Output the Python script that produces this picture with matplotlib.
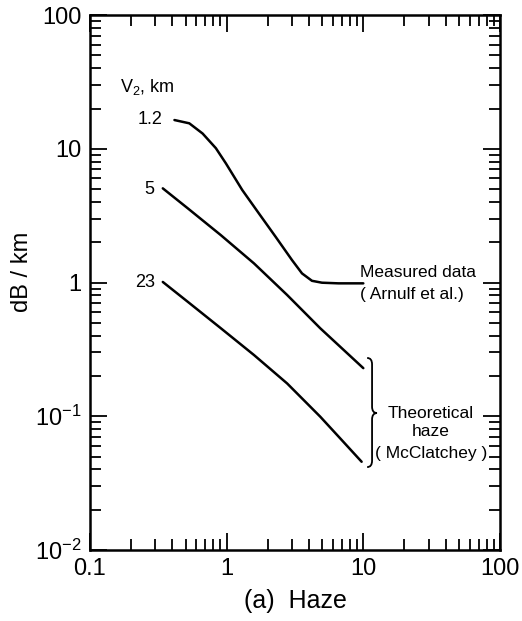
import matplotlib
matplotlib.use("Agg")
import matplotlib.pyplot as plt
from matplotlib.path import Path
from matplotlib.patches import PathPatch
from matplotlib.ticker import LogLocator, FixedLocator, FixedFormatter, NullFormatter

plt.rcParams['font.family'] = ['Liberation Sans', 'DejaVu Sans']
plt.rcParams['mathtext.fontset'] = 'custom'
plt.rcParams['mathtext.rm'] = 'Liberation Sans'

# curve V2 = 1.2 km (measured data, flattens near 1 dB/km)
x_12 = [0.415, 0.533, 0.667, 0.834, 0.987, 1.30, 1.72, 2.28, 3.01, 3.56, 4.21, 4.98, 6.58, 10.0]
y_12 = [16.4, 15.5, 13.0, 10.1, 7.78, 4.92, 3.29, 2.20, 1.47, 1.17, 1.03, 0.997, 0.986, 0.986]

# curve V2 = 5 km
x_5 = [0.341, 0.519, 0.907, 1.585, 2.77, 4.84, 10.0]
y_5 = [5.06, 3.59, 2.26, 1.39, 0.807, 0.455, 0.229]

# curve V2 = 23 km
x_23 = [0.341, 0.519, 0.907, 1.585, 2.77, 4.84, 6.77, 9.72]
y_23 = [1.01, 0.718, 0.455, 0.287, 0.176, 0.0993, 0.0684, 0.0457]

x_ticks = [0.1, 1, 10, 100]
x_labels = ['0.1', '1', '10', '100']
y_ticks = [0.01, 0.1, 1, 10, 100]
y_labels = [r'$\mathregular{10^{-2}}$', r'$\mathregular{10^{-1}}$', '1', '10', '100']

fig = plt.figure(figsize=(5.22, 6.21), dpi=100)
ax = fig.add_axes([0.1724, 0.1143, 0.7854, 0.8615])

for xs, ys in [(x_12, y_12), (x_5, y_5), (x_23, y_23)]:
    ax.plot(xs, ys, color='black', lw=1.8, solid_capstyle='round',
            solid_joinstyle='round')

ax.set_xscale('log')
ax.set_yscale('log')
ax.set_xlim(0.1, 100)
ax.set_ylim(0.01, 100)

ax.xaxis.set_major_locator(FixedLocator(x_ticks))
ax.xaxis.set_major_formatter(FixedFormatter(x_labels))
ax.yaxis.set_major_locator(FixedLocator(y_ticks))
ax.yaxis.set_major_formatter(FixedFormatter(y_labels))
ax.xaxis.set_minor_locator(LogLocator(base=10, subs=range(2, 10)))
ax.yaxis.set_minor_locator(LogLocator(base=10, subs=range(2, 10)))
ax.xaxis.set_minor_formatter(NullFormatter())
ax.yaxis.set_minor_formatter(NullFormatter())

ax.tick_params(which='both', direction='in', top=True, right=True, width=1.3)
ax.tick_params(which='major', length=12, labelsize=17, pad=6)
ax.tick_params(which='minor', length=8)
for s in ax.spines.values():
    s.set_linewidth(1.8)

ax.set_xlabel('(a)  Haze', fontsize=18, labelpad=6)
ax.set_ylabel('dB / km', fontsize=17)
ax.yaxis.set_label_coords(-0.138, 0.52)

# curve labels
ax.text(0.073, 0.865, r'V$_\mathregular{2}$, km', transform=ax.transAxes,
        fontsize=13, ha='left', va='center')
ax.text(0.178, 0.804, '1.2', transform=ax.transAxes, fontsize=13, ha='right', va='center')
ax.text(0.158, 0.673, '5', transform=ax.transAxes, fontsize=13, ha='right', va='center')
ax.text(0.158, 0.5, '23', transform=ax.transAxes, fontsize=13, ha='right', va='center')

# right side annotations
ax.text(0.659, 0.518, 'Measured data', transform=ax.transAxes, fontsize=12.5,
        ha='left', va='center')
ax.text(0.659, 0.477, '( Arnulf et al.)', transform=ax.transAxes, fontsize=12.5,
        ha='left', va='center')
ax.text(0.832, 0.256, 'Theoretical', transform=ax.transAxes, fontsize=12.5,
        ha='center', va='center')
ax.text(0.832, 0.221, 'haze', transform=ax.transAxes, fontsize=12.5,
        ha='center', va='center')
ax.text(0.832, 0.181, '( McClatchey )', transform=ax.transAxes, fontsize=12.5,
        ha='center', va='center')

# curly brace grouping the theoretical curves
bx0, bx1, bx2 = 0.676, 0.688, 0.700
yt, ym, yb = 0.359, 0.256, 0.155
d = 0.012
verts = [(bx0, yt), (bx1, yt), (bx1, yt - d),
         (bx1, ym + d), (bx1, ym), (bx2, ym),
         (bx1, ym), (bx1, ym - d),
         (bx1, yb + d), (bx1, yb), (bx0, yb)]
codes = [Path.MOVETO, Path.CURVE3, Path.CURVE3,
         Path.LINETO, Path.CURVE3, Path.CURVE3,
         Path.CURVE3, Path.CURVE3,
         Path.LINETO, Path.CURVE3, Path.CURVE3]
ax.add_patch(PathPatch(Path(verts, codes), transform=ax.transAxes,
                       fill=False, lw=1.3, color='black'))

fig.savefig('out.png', dpi=100)
